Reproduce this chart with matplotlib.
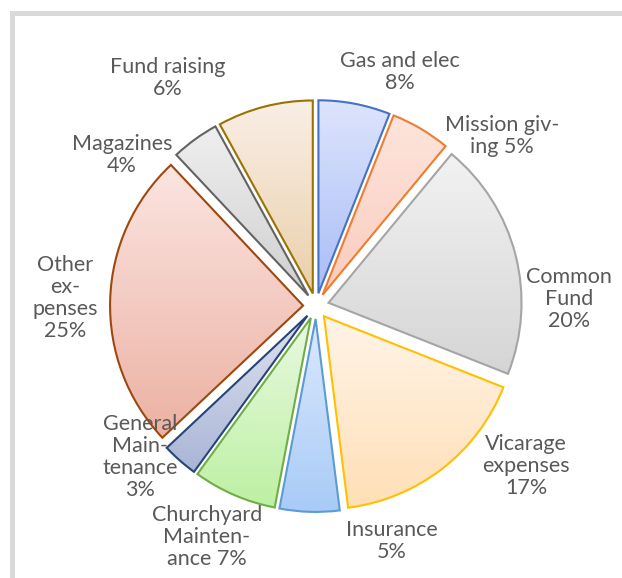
import numpy as np
import matplotlib
matplotlib.use('Agg')
import matplotlib.pyplot as plt
from matplotlib.colors import LinearSegmentedColormap
from matplotlib.patches import Rectangle

plt.rc('font', family=['Lato', 'DejaVu Sans'], size=15.5)

# data (slice sizes, label text as printed)
labels = ['Gas and elec\n8%', 'Mission giv-\ning 5%', 'Common\nFund\n20%',
          'Vicarage\nexpenses\n17%', 'Insurance\n5%', 'Churchyard\nMainten-\nance 7%',
          'General\nMain-\ntenance\n3%', 'Other\nex-\npenses\n25%', 'Magazines\n4%',
          'Fund raising\n6%']
values = [6, 5, 20, 17, 5, 7, 3, 25, 4, 8]

edge_colors = ['#4472C4', '#ED7D31', '#A5A5A5', '#FFC000', '#5B9BD5',
               '#70AD47', '#264478', '#9E480E', '#636363', '#997300']
top_colors = ['#dde4fc', '#fde5dc', '#f2f2f2', '#fff4e8', '#dce9fd',
              '#e9f9e2', '#dfe3ef', '#fbe5e1', '#efefef', '#f9efe6']
bottom_colors = ['#a9bdf6', '#fbcbbd', '#d5d5d5', '#ffdfb6', '#a8cbf7',
                 '#bdf0a3', '#a9b5d6', '#ecb1a3', '#cfcfcf', '#ebcfab']

# label anchor positions (pie radius = 1)
label_xy = [(0.435, 1.212), (0.964, 0.88), (1.311, 0.036), (1.088, -0.83),
            (0.394, -1.218), (-0.565, -1.197), (-0.912, -0.782), (-1.301, 0.041),
            (-1.005, 0.782), (-0.767, 1.181)]

W, H = 622, 578
cx, cy, R = 316, 306, 193

fig = plt.figure(figsize=(W / 100, H / 100), dpi=100)
ax = fig.add_axes([0, 0, 1, 1])

wedges, _ = ax.pie(values, startangle=90, counterclock=False,
                   explode=[0.067] * len(values), radius=1,
                   wedgeprops=dict(linewidth=1.5))

grad = np.linspace(0, 1, 256).reshape(-1, 1)
for i, w in enumerate(wedges):
    w.set_facecolor('none')
    w.set_edgecolor(edge_colors[i])
    w.set_zorder(3)
    bb = w.get_path().get_extents()
    cmap = LinearSegmentedColormap.from_list('g%d' % i, [top_colors[i], bottom_colors[i]])
    im = ax.imshow(grad, cmap=cmap, aspect='auto', origin='upper',
                   extent=(bb.x0, bb.x1, bb.y0, bb.y1), zorder=2)
    im.set_clip_path(w)

for i, t in enumerate(labels):
    ax.text(label_xy[i][0], label_xy[i][1], t, ha='center', va='center',
            multialignment='center', color='#595959', fontsize=15.5, linespacing=1.12)

ax.set_xlim(-cx / R, (W - cx) / R)
ax.set_ylim(-(H - cy) / R, cy / R)
ax.set_aspect('auto')
ax.axis('off')

# chart frame (cut off on the right and bottom)
fig.patches.append(Rectangle((11.5 / W, -0.1), 1.2, (H - 13.5) / H + 0.1,
                             transform=fig.transFigure, fill=False,
                             edgecolor='#d9d9d9', linewidth=3.6))

plt.savefig('out.png', dpi=100)
